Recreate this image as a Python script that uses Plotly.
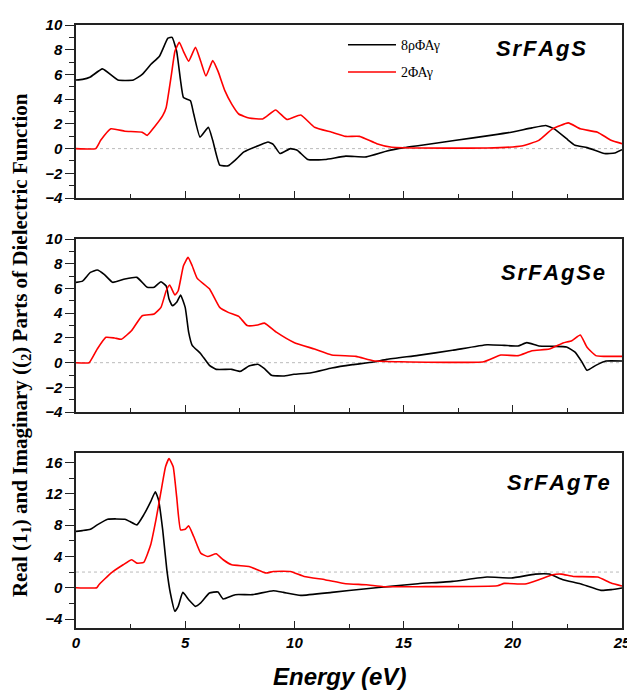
import plotly.graph_objects as go

# ---------------- data ----------------
panel_names = ["SrFAgS", "SrFAgSe", "SrFAgTe"]
legend_names = ["8ρΦΑγ", "2ΦΑγ"]
ref_levels = [0, 0, 2]

# SrFAgS
s_real_e = [0, 0.3, 0.66, 1.21, 1.92, 2.63, 3.03, 3.42, 3.82, 4.21, 4.40, 4.61, 4.79, 4.92, 5.24, 5.39,
            5.68, 6.06, 6.26, 6.58, 6.97, 7.29, 7.69, 8.40, 8.79, 9.03, 9.34, 9.82, 10.13, 10.61, 11.40,
            12.35, 13.29, 14.24, 15.03, 15.82, 17.40, 18.98, 19.93, 20.88, 21.51, 21.90, 22.46, 22.85,
            23.40, 24.19, 24.67, 25]
s_real_v = [5.55, 5.6, 5.8, 6.45, 5.55, 5.55, 6.0, 6.8, 7.47, 8.93, 9.0, 7.87, 5.47, 4.13, 3.87, 2.8,
            0.93, 1.73, 0.67, -1.33, -1.39, -0.93, -0.27, 0.27, 0.53, 0.35, -0.4, 0, -0.13, -0.88, -0.88,
            -0.61, -0.67, -0.19, 0.08, 0.27, 0.67, 1.07, 1.33, 1.68, 1.87, 1.6, 0.8, 0.27,
            0.08, -0.4, -0.35, -0.08]
s_imag_e = [0, 0.9, 1.13, 1.6, 2.24, 3.03, 3.26, 3.58, 3.97, 4.13, 4.37, 4.53, 4.73, 4.92, 5.16, 5.47,
            5.71, 5.95, 6.26, 6.5, 6.82, 7.13, 7.45, 7.92, 8.55, 9.14, 9.66, 10.29, 10.92, 11.71, 12.35,
            12.98, 13.77, 14.40, 15.66, 18.82, 20.4, 21.19, 21.82, 22.54, 23.09, 23.88, 24.5, 25]
s_imag_v = [0, 0, 0.67, 1.6, 1.41, 1.33, 1.07, 1.73, 2.67, 3.33, 6.0, 7.87, 8.61, 7.87, 7.07, 8.19,
            7.07, 5.87, 7.12, 6.27, 4.67, 3.6, 2.8, 2.48, 2.4, 3.12, 2.35, 2.72, 1.73, 1.33, 0.99,
            0.99, 0.4, 0.13, 0.05, 0.05, 0.21, 0.67, 1.6, 2.08, 1.6, 1.33, 0.67, 0.4]

# SrFAgSe
se_real_e = [0, 0.3, 0.66, 0.97, 1.29, 1.68, 2.24, 2.79, 3.26, 3.58, 3.89, 4.13, 4.26, 4.42, 4.61, 4.79,
             5.0, 5.16, 5.32, 5.71, 6.11, 6.42, 7.13, 7.53, 7.92, 8.32, 8.63, 8.95, 9.5, 9.98, 10.77,
             11.71, 12.66, 13.61, 14.24, 15.66, 17.24, 18.82, 19.61, 20.24, 20.64, 21.19, 21.82, 22.46,
             22.85, 23.17, 23.4, 23.8, 24.27, 25]
se_real_v = [6.5, 6.6, 7.3, 7.5, 7.15, 6.5, 6.77, 6.9, 6.1, 6.1, 6.55, 6.2, 5.15, 4.6, 4.88, 5.47,
             4.47, 2.45, 1.4, 0.73, -0.22, -0.54, -0.54, -0.7, -0.27, -0.13, -0.49, -1.02, -1.08, -0.94, -0.81,
             -0.43, -0.16, 0.05, 0.27, 0.59, 1.0, 1.45, 1.4, 1.35, 1.62, 1.35, 1.32, 1.27,
             0.86, 0.05, -0.62, -0.22, 0.13, 0.13]
se_imag_e = [0, 0.6, 0.97, 1.37, 1.76, 2.08, 2.55, 3.03, 3.58, 3.89, 4.13, 4.29, 4.53, 4.68, 4.92, 5.13,
             5.32, 5.55, 6.11, 6.58, 6.97, 7.45, 7.84, 8.32, 8.63, 9.19, 9.98, 10.92, 11.71, 12.82, 13.61,
             14.87, 18.67, 19.45, 20.24, 20.88, 21.67, 22.3, 22.7, 23.09, 23.4, 23.8, 24.19, 25]
se_imag_v = [0, 0, 1.1, 2.05, 2.0, 1.9, 2.6, 3.8, 3.94, 4.47, 5.82, 6.28, 5.47, 5.82, 7.84, 8.52,
             7.84, 6.82, 5.98, 4.47, 4.07, 3.75, 3.0, 3.05, 3.2, 2.45, 1.64, 1.1, 0.62, 0.51, 0.16,
             0.08, 0.08, 0.62, 0.57, 0.97, 1.1, 1.59, 1.78, 2.24, 1.24, 0.57, 0.51, 0.51]

# SrFAgTe
te_real_e = [0, 0.3, 0.66, 0.97, 1.45, 2.24, 2.47, 2.79, 3.1, 3.42, 3.63, 3.78, 3.97, 4.16, 4.32, 4.53,
             4.68, 4.89, 5.16, 5.47, 5.71, 6.11, 6.5, 6.74, 7.29, 8.08, 9.03, 9.5, 10.29, 11.71, 13.29,
             14.4, 15.66, 17.24, 18.82, 19.93, 21.03, 21.67, 22.3, 23.09, 24.04, 24.51, 25]
te_real_v = [7.2, 7.3, 7.47, 8.03, 8.75, 8.75, 8.45, 8.03, 9.3, 11.0, 12.27, 11.2, 7.39, 2.29, -0.68, -3.02,
             -2.38, -0.6, -1.53, -2.38, -1.95, -0.68, -0.55, -1.44, -0.89, -0.89, -0.38, -0.6, -0.98, -0.6, -0.13,
             0.17, 0.51, 0.81, 1.36, 1.24, 1.74, 1.74, 1.02, 0.51, -0.34, -0.25, -0.04]
te_imag_e = [0, 0.95, 1.05, 1.6, 2.16, 2.55, 2.79, 3.1, 3.42, 3.66, 3.89, 4.1, 4.26, 4.45, 4.61, 4.79,
             5.0, 5.16, 5.39, 5.71, 6.03, 6.42, 6.74, 7.13, 7.92, 8.71, 9.03, 9.82, 10.45, 11.4, 12.35,
             13.29, 14.08, 15.66, 19.3, 19.61, 20.56, 21.19, 21.82, 22.22, 22.77, 23.88, 24.5, 25]
te_imag_v = [0, 0, 0.38, 1.87, 2.93, 3.57, 3.14, 3.23, 5.48, 8.66, 12.27, 15.45, 16.5, 15.45, 11.6, 7.39,
             7.47, 7.9, 6.54, 4.42, 3.99, 4.33, 3.57, 2.93, 2.72, 1.87, 2.08, 2.08, 1.44, 1.02, 0.51,
             0.38, 0.13, 0.13, 0.25, 0.55, 0.47, 1.02, 1.66, 1.74, 1.44, 1.36, 0.6, 0.21]

x_tick_vals = [0, 5, 10, 15, 20, 25]
y_ranges = [[-4, 10], [-4, 10], [-5.15, 17.2]]
y_dticks = [2, 2, 4]

panels = [
    (s_real_e, s_real_v, s_imag_e, s_imag_v),
    (se_real_e, se_real_v, se_imag_e, se_imag_v),
    (te_real_e, te_real_v, te_imag_e, te_imag_v),
]

# ---------------- figure ----------------
# the page body has an 8px default margin on every side: keep the figure inside the window
W, H = 619, 684
ML, MR, MT, MB = 68, 5, 17, 64
domains = [[0.713, 1.0], [0.358, 0.645], [0.0, 0.290]]
name_pos = [(0.938, 0.867), (0.973, 0.809), (0.982, 0.834)]

tick_font = dict(family="Arial, Liberation Sans, sans-serif", size=15, color="black",
                 weight="bold", style="italic")
frame = "#222222"

fig = go.Figure()
for i, (re_e, re_v, im_e, im_v) in enumerate(panels):
    sfx = "" if i == 0 else str(i + 1)
    fig.add_trace(go.Scatter(x=re_e, y=re_v, mode="lines",
                             line=dict(color="black", width=1.6, shape="spline", smoothing=0.4),
                             name=legend_names[0], showlegend=(i == 0), legendgroup="a",
                             xaxis="x" + sfx, yaxis="y" + sfx))
    fig.add_trace(go.Scatter(x=im_e, y=im_v, mode="lines",
                             line=dict(color="#ff0000", width=1.6, shape="spline", smoothing=0.4),
                             name=legend_names[1], showlegend=(i == 0), legendgroup="b",
                             xaxis="x" + sfx, yaxis="y" + sfx))
    fig.update_layout(**{
        "xaxis" + sfx: dict(domain=[0, 1], range=[0, 25], anchor="y" + sfx,
                            showline=True, mirror=True, linecolor=frame, linewidth=1.5,
                            ticks="inside", ticklen=7, tickwidth=1.2, tickcolor=frame,
                            tickvals=x_tick_vals, showticklabels=(i == 2), tickfont=tick_font,
                            ticklabeloverflow="allow",
                            minor=dict(dtick=2.5, ticks="inside", ticklen=4, tickcolor=frame),
                            showgrid=False, zeroline=False, automargin=False),
        "yaxis" + sfx: dict(domain=domains[i], range=y_ranges[i], anchor="x" + sfx,
                            showline=True, mirror=True, linecolor=frame, linewidth=1.5,
                            ticks="outside", ticklen=9, tickwidth=1.2, tickcolor=frame,
                            dtick=y_dticks[i], tickfont=tick_font,
                            minor=dict(dtick=y_dticks[i] / 2, ticks="outside", ticklen=5, tickcolor=frame),
                            showgrid=False, zeroline=False, automargin=False),
    })
    fig.add_shape(type="line", xref="x" + sfx + " domain", yref="y" + sfx,
                  x0=0, x1=1, y0=ref_levels[i], y1=ref_levels[i],
                  line=dict(color="#bbbbbb", width=1, dash="dot"), layer="below")
    fig.add_annotation(text="\u200a".join(panel_names[i]), xref="x" + sfx + " domain",
                       yref="y" + sfx + " domain", x=name_pos[i][0], y=name_pos[i][1],
                       xanchor="right", yanchor="middle", showarrow=False,
                       font=dict(family="Arial, Liberation Sans, sans-serif", size=22,
                                 color="black", weight="bold", style="italic"))

fig.add_annotation(text="Real (1<sub>1</sub>) and Imaginary ((<sub>2</sub>) Parts of Dielectric Function",
                   xref="paper", yref="paper", x=-0.101, y=0.469, textangle=-90,
                   xanchor="center", yanchor="middle", showarrow=False,
                   font=dict(family="Liberation Serif, Times New Roman, serif", size=21,
                             color="black", weight="bold"))
fig.add_annotation(text="Energy (eV)", xref="paper", yref="paper", x=0.4835, y=-0.105,
                   xanchor="center", yanchor="bottom", showarrow=False, borderpad=0,
                   font=dict(family="Arial, Liberation Sans, sans-serif", size=24,
                             color="black", weight="bold", style="italic"))

fig.update_layout(
    width=W, height=H,
    margin=dict(l=ML, r=MR, t=MT, b=MB),
    paper_bgcolor="white", plot_bgcolor="white",
    legend=dict(x=0.489, y=0.993, xanchor="left", yanchor="top", bgcolor="rgba(0,0,0,0)",
                itemwidth=48, tracegroupgap=6, traceorder="grouped",
                font=dict(family="Liberation Serif, Times New Roman, serif", size=14, color="black")),
)

fig.write_html("out.html")
